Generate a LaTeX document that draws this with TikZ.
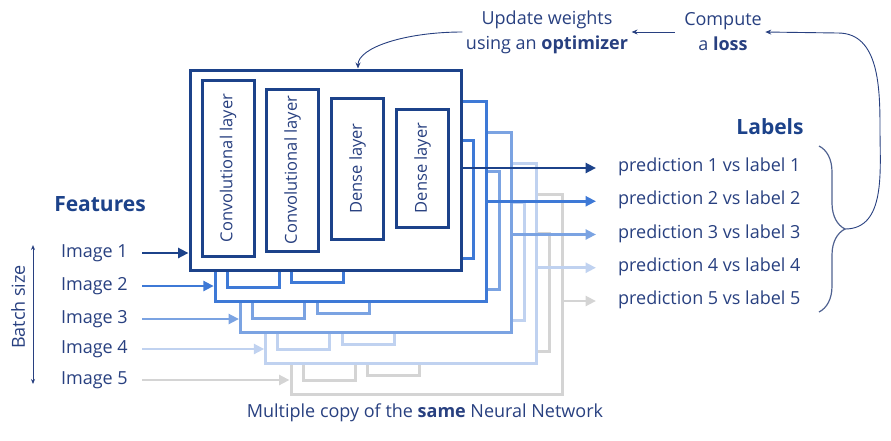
\documentclass[tikz,border=0pt]{standalone}
\usepackage{fontspec}
\setmainfont{Open Sans}
\usepackage{tikz}
\usetikzlibrary{arrows.meta,decorations.pathreplacing}

\definecolor{cone}{RGB}{28,66,138}
\definecolor{ctwo}{RGB}{62,121,214}
\definecolor{cthree}{RGB}{123,163,226}
\definecolor{cfour}{RGB}{192,210,240}
\definecolor{cfive}{RGB}{212,212,212}
\definecolor{ink}{RGB}{40,64,128}
\definecolor{bracecol}{RGB}{80,98,145}

\begin{document}
\begin{tikzpicture}[x=1pt, y=-1pt,
  txt/.style={text=ink, font=\fontsize{18}{25}\selectfont},
  head/.style={text=cone, font=\fontsize{21}{24}\selectfont\bfseries},
  netbox/.style={draw, line width=3pt, fill=white, minimum width=271pt, minimum height=200pt, inner sep=0pt},
  laybox/.style={draw, line width=3pt, inner sep=0pt, minimum width=52pt},
  laytxt/.style={text=ink, rotate=90, font=\fontsize{16.5}{16.5}\selectfont},
  inarr/.style={line width=2.8pt, -{Triangle[length=10.5pt,width=10pt]}},
  thinarr/.style={ink, line width=0.9pt, -{Stealth[length=6pt,width=5pt]}},
]

\useasboundingbox (0,0) rectangle (891,440);

% the five copies, back to front
\foreach \k/\col in {5/cfive,4/cfour,3/cthree,2/ctwo,1/cone}{
  \begin{scope}[shift={({25.25*(\k-1)},{31*(\k-1)})}]
    \node[netbox, draw=\col] (net\k) at (325.5,170) {};
    \node[laybox, draw=\col, minimum height=176pt] (lay\k-1) at (228,168) {};
    \node[laybox, draw=\col, minimum height=162pt] (lay\k-2) at (292.5,170) {};
    \node[laybox, draw=\col, minimum height=141pt] (lay\k-3) at (357.5,168.5) {};
    \node[laybox, draw=\col, minimum height=118pt] (lay\k-4) at (422.5,168) {};
  \end{scope}
}
\node[laytxt] at (lay1-1) {Convolutional layer};
\node[laytxt] at (lay1-2) {Convolutional layer};
\node[laytxt] at (lay1-3) {Dense layer};
\node[laytxt] at (lay1-4) {Dense layer};

% outputs
\foreach \k in {1,...,5}
  \node[txt, anchor=west, inner xsep=22pt, text height=9pt, text depth=2pt] (pred\k) at (596,{168+33.25*(\k-1)}) {prediction \k{} vs label \k};
\foreach \k/\col in {5/cfive,4/cfour,3/cthree,2/ctwo,1/cone}
  \draw[inarr, \col] (net\k.east |- pred\k.west) -- (pred\k.west);

% inputs
\foreach \k/\y in {1/253,2/286,3/319,4/349,5/380}
  \node[txt, anchor=east, inner xsep=14pt] (img\k) at (142,\y) {Image \k};
\foreach \k/\col in {5/cfive,4/cfour,3/cthree,2/ctwo,1/cone}
  \draw[inarr, \col] (img\k.east) -- (img\k -| net\k.west);

\node[head] (feat) at (100,204) {Features};
\node[head] (lab) at (770,127) {Labels};

% batch size
\coordinate (btop) at (33,245);
\coordinate (bbot) at (33,384);
\draw[ink, line width=1pt, {Stealth[length=5pt,width=4pt]}-{Stealth[length=5pt,width=4pt]}] (btop) -- (bbot);
\node[txt, rotate=90] (batch) at (18,307) {Batch size};

\node[txt] (caption) at (425,413) {Multiple copy of the \textbf{same} Neural Network};

% training loop
\node[txt, align=center] (upd) at (547,32) {Update weights\\using an \textbf{optimizer}};
\node[txt, align=center] (loss) at (723,32) {Compute\\a \textbf{loss}};
\draw[thinarr, shorten <=6pt] (loss.west) -- (upd.east);
\draw[thinarr] (upd.west) .. controls +(-57,0) and +(0,-21) .. ([xshift=32.5pt]net1.north);

\draw[bracecol, line width=1.2pt, decorate, decoration={brace, amplitude=26pt}] (819,146) -- (819,312);
\coordinate (btip) at (845,229);
\draw[thinarr] (btip) to[out=0,in=-90] (880,130) to[out=90,in=0] (838,33) -- (loss.east);
\end{tikzpicture}
\end{document}
